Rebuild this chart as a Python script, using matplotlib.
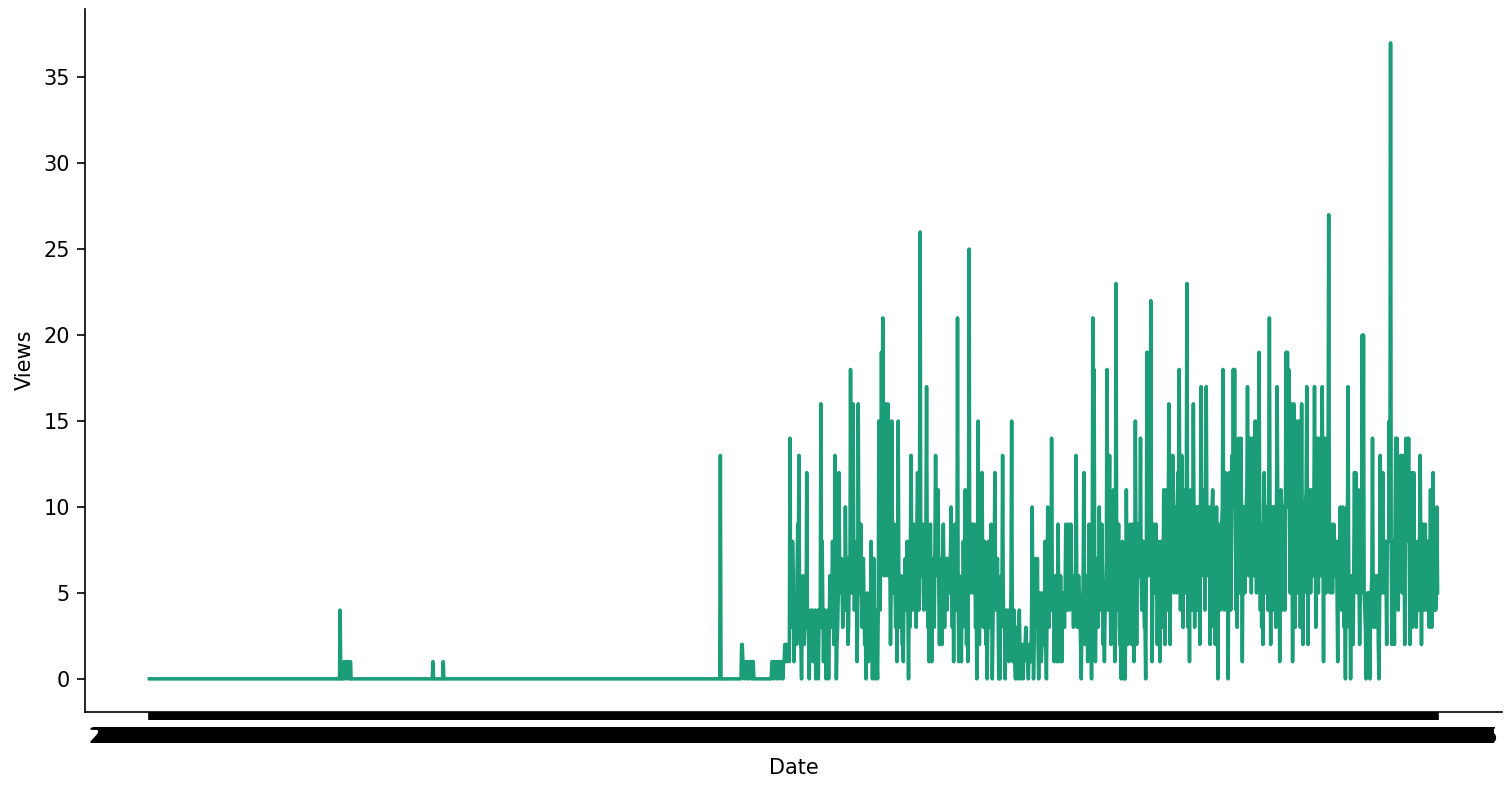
import matplotlib
matplotlib.use('Agg')
import matplotlib.pyplot as plt
import pandas as pd

# quiet start of the series, runs of zeros with the few visible bumps
early_views = (
    [0] * 296 + [4, 0, 0, 0, 0, 0, 1, 1, 0, 1, 1, 1, 0, 1, 1, 0, 1, 0]
    + [0] * 126 + [1] + [0] * 15 + [1]
    + [0] * 429 + [13]
    + [0] * 32 + [2, 2, 1, 1, 0, 1, 1, 1, 0, 1, 1, 0, 1, 1, 1, 1, 0, 1, 1]
    + [0] * 28 + [1, 1, 1, 0, 1, 1, 1, 1, 0, 1, 1, 1, 0, 1, 1, 1, 1, 0, 1, 1]
    + [2, 1, 2, 2, 1, 2, 2, 1]
)

# busy part, spikes and dips left to right
busy_views = [
    14, 4, 8, 1, 3, 2, 9, 13, 2, 0,
    6, 2, 4, 12, 3, 0, 4, 2, 1, 3,
    0, 1, 0, 4, 16, 8, 1, 4, 0, 2,
    0, 6, 3, 8, 2, 13, 0, 3, 12, 5,
    7, 3, 5, 10, 4, 2, 7, 18, 5, 16,
    4, 7, 1, 16, 5, 9, 3, 7, 2, 0,
    5, 1, 3, 8, 0, 7, 0, 4, 0, 15,
    4, 19, 21, 6, 16, 6, 16, 6, 2, 15,
    5, 9, 3, 1, 15, 3, 6, 2, 1, 6,
    4, 8, 0, 3, 13, 4, 9, 5, 3, 12,
    4, 26, 6, 9, 4, 6, 17, 3, 1, 9,
    1, 6, 3, 13, 7, 11, 2, 7, 2, 9,
    3, 7, 4, 7, 5, 10, 3, 1, 9, 5,
    21, 1, 5, 1, 3, 5, 11, 2, 1, 25,
    5, 9, 5, 9, 3, 0, 15, 2, 5, 12,
    3, 8, 2, 0, 8, 3, 9, 0, 6, 12,
    4, 7, 0, 0, 6, 13, 3, 0, 2, 4,
    1, 3, 15, 1, 4, 0, 2, 0, 4, 0,
    2, 0, 2, 3, 1, 0, 2, 1, 10, 0,
    7, 3, 7, 0, 5, 1, 5, 2, 8, 0,
    10, 3, 5, 14, 4, 1, 6, 1, 9, 1,
    6, 1, 5, 3, 9, 4, 9, 4, 9, 5,
    3, 6, 13, 3, 6, 4, 0, 3, 12, 2,
    6, 1, 9, 4, 0, 21, 18, 1, 7, 3,
    10, 4, 9, 2, 1, 5, 18, 4, 13, 2,
    5, 11, 1, 23, 4, 9, 2, 0, 8, 0,
    0, 11, 2, 5, 9, 2, 9, 1, 15, 2,
    9, 6, 14, 4, 8, 3, 0, 19, 6, 19,
    22, 1, 9, 5, 9, 2, 8, 1, 8, 3,
    11, 2, 11, 4, 16, 2, 12, 13, 5, 10,
    5, 12, 18, 4, 13, 3, 11, 5, 23, 3,
    1, 11, 4, 16, 3, 10, 4, 10, 2, 17,
    6, 11, 4, 17, 6, 10, 2, 6, 11, 3,
    2, 10, 0, 9, 4, 9, 18, 4, 12, 6,
    0, 12, 4, 13, 18, 18, 4, 3, 14, 5,
    14, 1, 10, 5, 10, 17, 6, 14, 5, 14,
    6, 15, 5, 15, 19, 4, 3, 2, 12, 5,
    9, 4, 21, 2, 10, 4, 10, 3, 17, 5,
    1, 11, 4, 10, 4, 19, 19, 18, 5, 16,
    1, 16, 3, 15, 5, 15, 3, 16, 2, 5,
    10, 17, 2, 11, 5, 11, 6, 17, 3, 14,
    5, 14, 6, 17, 1, 14, 5, 14, 27, 5,
    9, 5, 9, 6, 8, 1, 5, 10, 4, 10,
    3, 0, 10, 17, 3, 0, 6, 2, 12, 12,
    5, 11, 2, 5, 20, 20, 4, 0, 5, 3,
    0, 5, 14, 3, 6, 3, 6, 0, 13, 5,
    12, 5, 8, 2, 8, 15, 37, 2, 8, 2,
    14, 14, 4, 11, 13, 5, 13, 2, 14, 8,
    14, 2, 12, 3, 12, 6, 3, 8, 4, 13,
    2, 9, 4, 9, 4, 8, 3, 11, 3, 12,
    4, 4, 10,
]

# the days between those spikes, estimated from the height of the solid mass
busy_between = [
    5, 3, 6, 2, 4, 6, 7, 3, 2, 4,
    4, 5, 3, 4, 2, 3, 3, 4, 2, 4,
    2, 4, 3, 3, 5, 4, 3, 2, 1, 4,
    3, 4, 5, 6, 5, 4, 2, 5, 7, 6,
    5, 6, 4, 6, 7, 3, 5, 7, 6, 8,
    6, 8, 3, 6, 7, 5, 6, 4, 3, 2,
    4, 2, 3, 5, 3, 4, 2, 1, 4, 9,
    9, 10, 11, 9, 11, 8, 10, 7, 5, 9,
    8, 6, 7, 6, 5, 6, 5, 2, 6, 7,
    6, 4, 5, 8, 7, 8, 6, 6, 9, 8,
    9, 7, 8, 5, 7, 9, 7, 4, 6, 5,
    5, 7, 8, 7, 6, 5, 6, 5, 7, 6,
    6, 5, 7, 6, 7, 5, 6, 6, 7, 4,
    5, 6, 4, 5, 8, 7, 6, 5, 7, 6,
    8, 7, 6, 7, 5, 6, 5, 7, 6, 7,
    6, 5, 7, 3, 6, 7, 5, 3, 7, 5,
    6, 4, 3, 5, 5, 5, 4, 3, 4, 3,
    3, 5, 4, 3, 1, 3, 1, 3, 1, 2,
    1, 2, 2, 2, 1, 2, 1, 4, 3, 2,
    3, 4, 2, 3, 4, 2, 4, 3, 2, 4,
    5, 6, 4, 6, 5, 3, 4, 4, 5, 3,
    3, 4, 5, 5, 6, 5, 6, 6, 5, 5,
    6, 5, 6, 5, 5, 2, 3, 6, 5, 6,
    5, 4, 6, 3, 6, 7, 5, 4, 6, 6,
    7, 6, 5, 3, 4, 7, 7, 8, 5, 6,
    8, 6, 6, 7, 6, 3, 2, 2, 1, 2,
    3, 6, 6, 6, 4, 6, 4, 5, 7, 6,
    7, 8, 6, 7, 5, 3, 6, 8, 7, 8,
    7, 5, 6, 7, 6, 5, 6, 5, 6, 5,
    9, 8, 10, 9, 11, 10, 9, 11, 10, 10,
    9, 11, 10, 10, 9, 10, 11, 10, 9, 8,
    8, 10, 9, 9, 10, 9, 10, 8, 9, 10,
    10, 9, 10, 9, 10, 8, 9, 10, 9, 8,
    8, 7, 7, 8, 9, 10, 9, 10, 9, 7,
    8, 9, 8, 10, 11, 10, 9, 10, 9, 10,
    7, 8, 10, 9, 11, 10, 11, 9, 11, 11,
    11, 10, 11, 10, 9, 8, 9, 10, 8, 10,
    9, 11, 9, 10, 9, 10, 9, 10, 10, 8,
    9, 10, 9, 10, 11, 10, 11, 10, 11, 9,
    10, 9, 10, 11, 10, 11, 10, 9, 10, 10,
    11, 10, 11, 10, 9, 11, 10, 10, 11, 10,
    11, 10, 10, 9, 10, 11, 10, 11, 9, 9,
    8, 7, 8, 6, 5, 6, 8, 8, 7, 6,
    4, 6, 8, 7, 5, 4, 6, 7, 6, 8,
    7, 6, 5, 8, 7, 5, 3, 3, 2, 5,
    4, 6, 5, 5, 4, 5, 2, 4, 6, 8,
    7, 8, 6, 8, 8, 9, 8, 7, 6, 9,
    8, 7, 8, 9, 8, 8, 7, 8, 9, 9,
    8, 7, 8, 6, 7, 4, 7, 6, 8, 7,
    7, 6, 7, 5, 7, 6, 7, 5, 8, 6,
    6, 5, 5,
]

views = list(early_views)
for spike, between in zip(busy_views, busy_between):
    views += [spike, between]

dates = pd.date_range(end='2021-05-15', periods=len(views)).strftime('%Y-%m-%d').tolist()

W, H = 1507, 789
DPI = 150


def main():
    fig = plt.figure(figsize=(W / DPI, H / DPI), dpi=DPI)
    ax = fig.add_axes([85 / W, 1 - 711.5 / H, (1502 - 85) / W, (711.5 - 8.5) / H])
    ax.plot(dates, views, color='#1b9e77', linewidth=1.7, solid_joinstyle='round')
    ax.set_ylim(-1.9, 39.0)
    ax.spines['top'].set_visible(False)
    ax.spines['right'].set_visible(False)
    ax.tick_params(axis='x', length=4, pad=3.5)
    ax.tick_params(axis='y', length=3.7)
    ax.set_xlabel('Date', labelpad=5)
    ax.set_ylabel('Views', labelpad=4)
    fig.savefig('out.png', dpi=DPI)


if __name__ == '__main__':
    main()
